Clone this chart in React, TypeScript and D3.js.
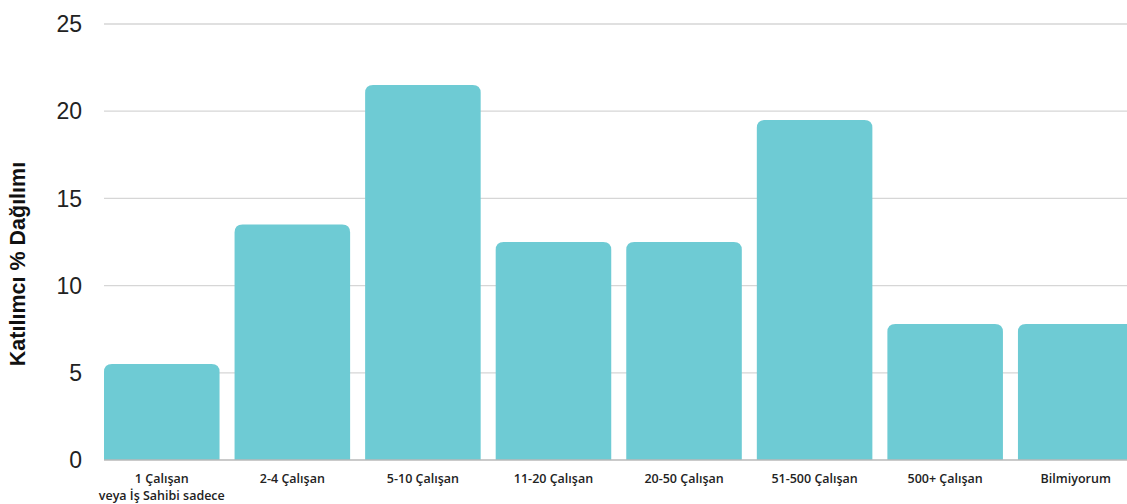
import React from "react";
import * as d3 from "d3";

const categories: string[][] = [
  ["1 Çalışan", "veya İş Sahibi sadece"],
  ["2-4 Çalışan"],
  ["5-10 Çalışan"],
  ["11-20 Çalışan"],
  ["20-50 Çalışan"],
  ["51-500 Çalışan"],
  ["500+ Çalışan"],
  ["Bilmiyorum"],
];
const values: number[] = [5.5, 13.5, 21.5, 12.5, 12.5, 19.5, 7.8, 7.8];
const yTicks: number[] = [0, 5, 10, 15, 20, 25];
const yTitle = "Katılımcı % Dağılımı";

const W = 1127;
const H = 504;

function topRoundedRect(x: number, y: number, w: number, h: number, r: number) {
  const rr = Math.min(r, h, w / 2);
  return `M${x},${y + h}V${y + rr}Q${x},${y} ${x + rr},${y}H${x + w - rr}Q${x + w},${y} ${x + w},${y + rr}V${y + h}Z`;
}

export default function App() {
  const keys = categories.map((c) => c.join(" "));
  const x = d3.scaleBand<string>().domain(keys).range([104, 1133.5]).paddingInner(0.115).paddingOuter(0);
  const y = d3.scaleLinear().domain([0, 25]).range([460, 24]);

  return (
    <svg width={W} height={H} style={{ position: "absolute", left: 0, top: 0, background: "#fff" }}>
      {yTicks.map((t) => (
        <g key={t}>
          {t > 0 && <line x1={104} x2={W} y1={y(t)} y2={y(t)} stroke="#d6d6d6" strokeWidth={1.3} />}
          <text x={82} y={y(t)} dy="0.36em" textAnchor="end" fontFamily="Liberation Sans, Arial, sans-serif" fontSize={23} fill="#222">
            {t}
          </text>
        </g>
      ))}
      {values.map((v, i) => (
        <path
          key={i}
          d={topRoundedRect(x(keys[i])!, y(v), x.bandwidth(), y(0) - y(v), 8)}
          fill="#6ecbd4"
        />
      ))}
      <line x1={104} x2={W} y1={y(0)} y2={y(0)} stroke="#b8b8b8" strokeWidth={1.5} />
      <text
        transform={`translate(25,${264}) rotate(-90)`}
        textAnchor="middle"
        fontFamily="Liberation Sans, Arial, sans-serif"
        fontWeight="bold"
        fontSize={21.5}
        fill="#111"
      >
        {yTitle}
      </text>
      {categories.map((c, i) =>
        c.map((line, j) => (
          <text
            key={`${i}-${j}`}
            x={x(keys[i])! + x.bandwidth() / 2}
            y={483 + j * 17}
            textAnchor="middle"
            fontFamily="Open Sans, sans-serif"
            fontWeight={600}
            fontSize={12.5}
            fill="#222"
          >
            {line}
          </text>
        ))
      )}
    </svg>
  );
}
